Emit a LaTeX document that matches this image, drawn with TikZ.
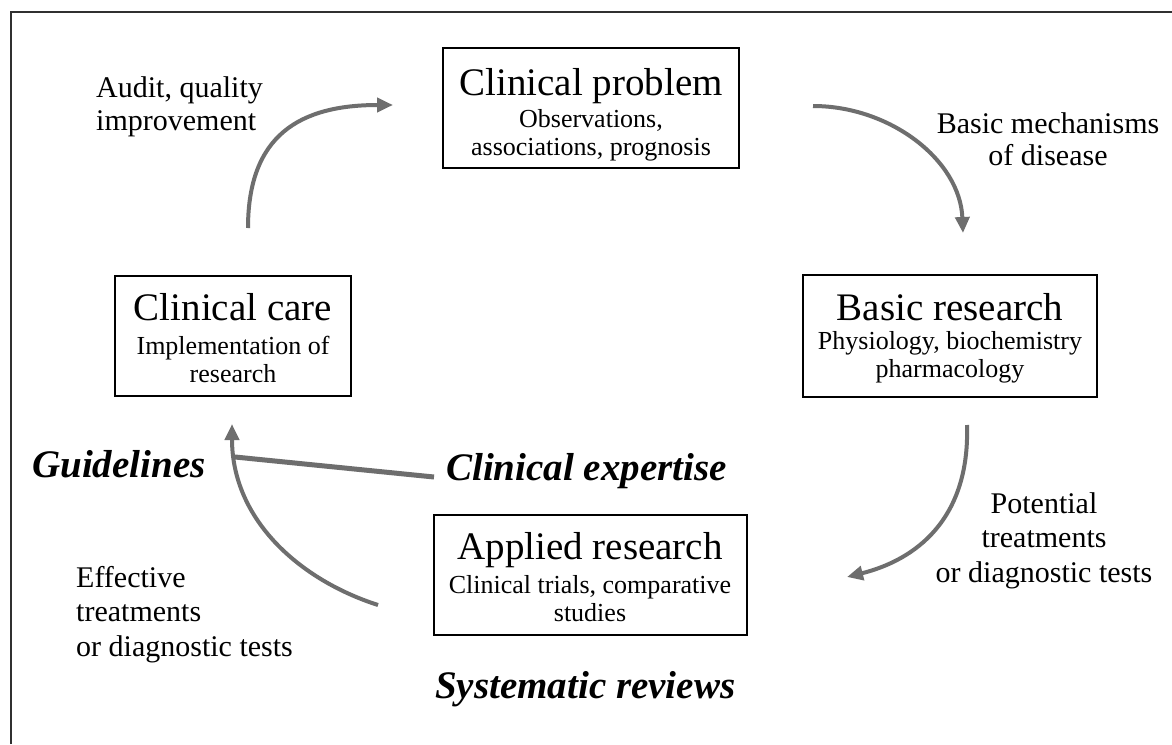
\documentclass[tikz,border=0pt]{standalone}
\usepackage{fontspec}
\setmainfont{Liberation Serif}
\usetikzlibrary{arrows.meta}
\definecolor{arrowgray}{HTML}{6E6E6E}
\definecolor{framegray}{HTML}{303030}
\begin{document}
\begin{tikzpicture}[x=1pt,y=-1pt,
  box/.style={draw=black, line width=1.8pt, inner sep=0pt},
  ttl/.style={font=\fontsize{39}{42}\selectfont, inner sep=0pt, anchor=base},
  sub/.style={font=\fontsize{26}{28}\selectfont, inner sep=0pt, anchor=base},
  lbl/.style={inner sep=0pt},
  emphlbl/.style={font=\fontsize{39}{42}\selectfont\bfseries\itshape, inner sep=0pt, anchor=base west},
  flow/.style={draw=arrowgray, line width=4pt, -{Triangle[length=16pt,width=14pt]}},
  bar/.style={draw=arrowgray, line width=5pt}
]
\useasboundingbox[fill=white] (0,0) rectangle (1172,744);
% frame (top and left edges visible)
\draw[framegray, line width=1.8pt] (11,744) -- (11,12) -- (1172,12);

% boxes
\node[box, minimum width=296pt, minimum height=120pt] (cp) at (591,108) {};
\node[box, minimum width=236pt, minimum height=120pt] (cc) at (233,336) {};
\node[box, minimum width=294pt, minimum height=122pt] (br) at (950,336) {};
\node[box, minimum width=313pt, minimum height=120pt] (ar) at (590.5,575) {};

% box texts
\node[ttl] (cpt) at (591,95) {Clinical problem};
\node[sub] (cps) at (591,127) {\begin{tabular}[t]{@{}c@{}}Observations,\\associations, prognosis\end{tabular}};
\node[ttl] (cct) at (233,320) {Clinical care};
\node[sub] (ccs) at (233,354) {\begin{tabular}[t]{@{}c@{}}Implementation of\\research\end{tabular}};
\node[ttl] (brt) at (950,320) {Basic research};
\node[sub] (brs) at (950,349) {\begin{tabular}[t]{@{}c@{}}Physiology, biochemistry\\pharmacology\end{tabular}};
\node[ttl] (art) at (590,559) {Applied research};
\node[sub] (ars) at (590,593) {\begin{tabular}[t]{@{}c@{}}Clinical trials, comparative\\studies\end{tabular}};

% labels
\node[lbl, anchor=base west, font=\fontsize{30}{33}\selectfont] (audit) at (96,97)
  {\begin{tabular}[t]{@{}l@{}}Audit, quality\\improvement\end{tabular}};
\node[lbl, anchor=base, font=\fontsize{30}{32}\selectfont] (mech) at (1048,133)
  {\begin{tabular}[t]{@{}c@{}}Basic mechanisms\\of disease\end{tabular}};
\node[lbl, anchor=base, font=\fontsize{30}{34.5}\selectfont] (pot) at (1044,513)
  {\begin{tabular}[t]{@{}c@{}}Potential\\treatments\\or diagnostic tests\end{tabular}};
\node[lbl, anchor=base west, font=\fontsize{30}{34.5}\selectfont] (eff) at (76,587)
  {\begin{tabular}[t]{@{}l@{}}Effective\\treatments\\or diagnostic tests\end{tabular}};

\node[emphlbl] (guide) at (32,477) {Guidelines};
\node[emphlbl] (expert) at (446,480) {Clinical expertise};
\node[emphlbl] (sysrev) at (435,698) {Systematic reviews};

% arrow end points
\coordinate (a1s) at (248,228);
\coordinate (a1e) at (393,105);
\coordinate (a2s) at (813,106);
\coordinate (a2e) at (963,233);
\coordinate (a3s) at (967,425);
\coordinate (a3e) at (847,577);
\coordinate (a4s) at (378,605);
\coordinate (a4e) at (232,424);
\coordinate (exs) at (434,477);
\coordinate (exe) at (235,457);

\draw[flow] (a1s) .. controls (248,135) and (300,105) .. (a1e);
\draw[flow] (a2s) .. controls (890,106) and (960,160) .. (a2e);
\draw[flow] (a3s) .. controls (970,520) and (915,560) .. (a3e);
\draw[flow] (a4s) .. controls (300,580) and (232,520) .. (a4e);
\draw[bar] (exs) -- (exe);
\end{tikzpicture}
\end{document}
